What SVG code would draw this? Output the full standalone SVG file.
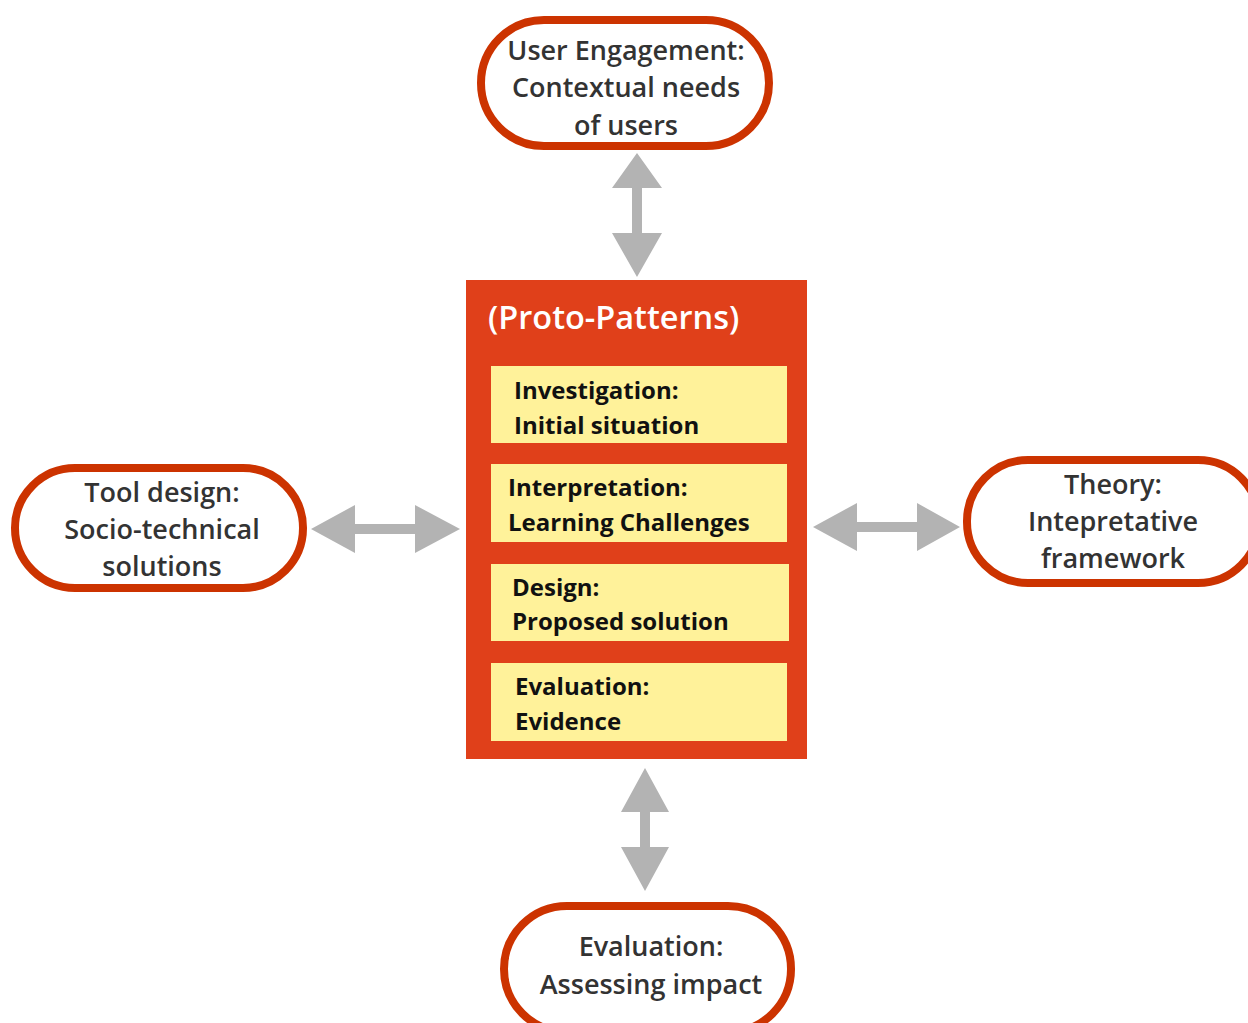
<svg xmlns="http://www.w3.org/2000/svg" width="1248" height="1023" viewBox="0 0 1248 1023">
<defs>
<style>
.pill{fill:#ffffff;stroke:#CC3300;stroke-width:8}
.pt{font-family:"Open Sans","Noto Sans",sans-serif;font-size:27px;font-weight:600;fill:#333333;text-anchor:middle}
.yb{fill:#FFF29A}
.yt{font-family:"Open Sans","Noto Sans",sans-serif;font-size:24px;font-weight:700;fill:#111111}
.arr{fill:#B3B3B3}
</style>
</defs>
<rect width="1248" height="1023" fill="#ffffff"/>
<g id="connectors">
<path class="arr" d="M637,153 L662,188 L642,188 L642,233 L662,233 L637,277 L612,233 L632,233 L632,188 L612,188 Z"/>
<path class="arr" d="M311,529 L355,505 L355,524 L415,524 L415,505 L460,529 L415,553 L415,534 L355,534 L355,553 Z"/>
<path class="arr" d="M813,527 L857,503 L857,522 L917,522 L917,503 L960,527 L917,551 L917,532 L857,532 L857,551 Z"/>
<path class="arr" d="M645,768 L669,812 L650,812 L650,847 L669,847 L645,891 L621,847 L640,847 L640,812 L621,812 Z"/>
</g>
<g id="node-user-engagement">
<rect class="pill" x="481" y="20" width="288" height="126" rx="63"/>
<text class="pt" x="626" y="60">User Engagement:</text>
<text class="pt" x="626" y="97">Contextual needs</text>
<text class="pt" x="626" y="135">of users</text>
</g>
<g id="node-tool-design">
<rect class="pill" x="15" y="468" width="288" height="120" rx="60"/>
<text class="pt" x="162" y="502">Tool design:</text>
<text class="pt" x="162" y="539">Socio-technical</text>
<text class="pt" x="162" y="576">solutions</text>
</g>
<g id="node-theory">
<rect class="pill" x="967" y="460" width="292" height="123" rx="61"/>
<text class="pt" x="1113" y="494">Theory:</text>
<text class="pt" x="1113" y="531">Intepretative</text>
<text class="pt" x="1113" y="568">framework</text>
</g>
<g id="node-evaluation-impact">
<rect class="pill" x="504" y="906" width="287" height="126" rx="63"/>
<text class="pt" x="651" y="956">Evaluation:</text>
<text class="pt" x="651" y="994">Assessing impact</text>
</g>
<g id="node-proto-patterns">
<rect x="466" y="280" width="341" height="479" fill="#E0401A"/>
<text x="488" y="329" font-family="Open Sans, Noto Sans, sans-serif" font-size="32.5" font-weight="600" fill="#ffffff">(Proto-Patterns)</text>
</g>
<g id="node-investigation">
<rect class="yb" x="491" y="366" width="296" height="77"/>
<text class="yt" x="514" y="399">Investigation:</text>
<text class="yt" x="514" y="434">Initial situation</text>
</g>
<g id="node-interpretation">
<rect class="yb" x="491" y="464" width="296" height="78"/>
<text class="yt" x="508" y="496">Interpretation:</text>
<text class="yt" x="508" y="531">Learning Challenges</text>
</g>
<g id="node-design">
<rect class="yb" x="491" y="564" width="298" height="77"/>
<text class="yt" x="512" y="596">Design:</text>
<text class="yt" x="512" y="630">Proposed solution</text>
</g>
<g id="node-evaluation-evidence">
<rect class="yb" x="491" y="663" width="296" height="78"/>
<text class="yt" x="515" y="695">Evaluation:</text>
<text class="yt" x="515" y="730">Evidence</text>
</g>
</svg>
